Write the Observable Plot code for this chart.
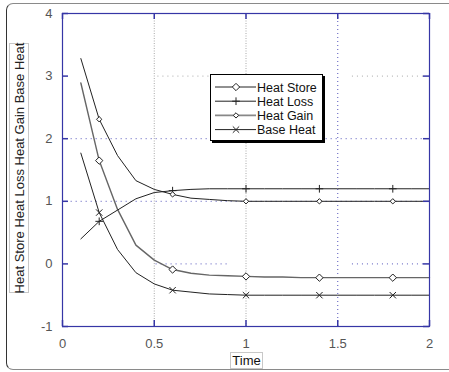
<!DOCTYPE html>
<html><head><meta charset="utf-8">
<script src="https://cdn.jsdelivr.net/npm/d3@7"></script>
<script src="https://cdn.jsdelivr.net/npm/@observablehq/plot@0.6"></script>
<style>
html,body{margin:0;padding:0;background:#fff;}
#wrap{position:relative;width:449px;height:372px;overflow:hidden;font-family:"Liberation Sans",Arial,sans-serif;}
#border{position:absolute;left:6px;top:3px;width:520px;height:367px;border:1px solid #8a8a8a;border-left:1.5px solid #333;border-radius:7px 0 0 7px;box-sizing:border-box;}
#chart{position:absolute;left:0;top:0;}
#ylab{position:absolute;left:9px;top:43px;width:20px;height:250px;border:1px solid #c8c8c8;box-sizing:border-box;background:#fff;}
#ylab span{position:absolute;left:50%;top:50%;transform:translate(-50%,-50%) rotate(-90deg);white-space:nowrap;font-size:13px;color:#222;}
#xlab{position:absolute;left:230px;top:352px;width:33px;height:17px;border:1px solid #c8c8c8;box-sizing:border-box;background:#fff;font-size:13px;color:#111;line-height:15px;text-align:center;}
#legend{position:absolute;left:210px;top:74px;width:113px;height:67px;border:1px solid #000;box-shadow:2px 2px 0 #000;background:#fff;box-sizing:border-box;}
</style>
</head><body>
<div id="wrap">
  <div id="border"></div>
  <div id="chart"></div>
  <div id="ylab"><span>Heat Store Heat Loss Heat Gain Base Heat</span></div>
  <div id="xlab">Time</div>
  <div id="legend"></div>
</div>
<script>
// ---- data ----
const time      = [0.1,0.2,0.3,0.4,0.5,0.6,0.7,0.8,0.9,1.0,1.1,1.2,1.3,1.4,1.5,1.6,1.7,1.8,1.9,2.0];
const heatStore = [2.89,1.65,0.87,0.30,0.06,-0.09,-0.15,-0.18,-0.19,-0.20,-0.21,-0.21,-0.22,-0.22,-0.22,-0.22,-0.22,-0.22,-0.22,-0.22];
const heatLoss  = [0.40,0.68,0.86,1.04,1.14,1.17,1.19,1.20,1.20,1.20,1.20,1.20,1.20,1.20,1.20,1.20,1.20,1.20,1.20,1.20];
const heatGain  = [3.28,2.31,1.73,1.33,1.19,1.11,1.05,1.03,1.01,1.00,1.00,1.00,1.00,1.00,1.00,1.00,1.00,1.00,1.00,1.00];
const baseHeat  = [1.77,0.82,0.23,-0.14,-0.32,-0.42,-0.45,-0.48,-0.49,-0.50,-0.50,-0.50,-0.50,-0.50,-0.50,-0.50,-0.50,-0.50,-0.50,-0.50];
const seriesNames = ["Heat Store","Heat Loss","Heat Gain","Base Heat"];
const xTicks = [0,0.5,1,1.5,2];
const yTicks = [-1,0,1,2,3,4];
const yGridFull = [1,2];
const yGridParts = [
  {y:3, x1:0.52, x2:1.43}, {y:3, x1:1.58, x2:1.97},
  {y:0, x1:0.51, x2:0.90}, {y:0, x1:1.58, x2:1.97}
];

// ---- styles ----
const styles = {
  "Heat Store": {stroke:"#666", width:1.4, symbol:"diamond2", r:3.3},
  "Heat Loss":  {stroke:"#222", width:1,   symbol:"plus",     r:2.6},
  "Heat Gain":  {stroke:"#222", width:1,   symbol:"diamond2", r:2.4},
  "Base Heat":  {stroke:"#222", width:1,   symbol:"times",    r:3.0}
};
const values = {"Heat Store":heatStore,"Heat Loss":heatLoss,"Heat Gain":heatGain,"Base Heat":baseHeat};
const rows = [];
for (const s of seriesNames) time.forEach((t,i)=>rows.push({series:s, t, v:values[s][i], i}));
const markerRows = rows.filter(d => d.i % 4 === 1);

const W=449, H=372, mL=62, mT=13, mR=20, mB=46;
const pw = W-mL-mR, ph = H-mT-mB;
const frameColor = "#3636a6";
const gridBlue = "#5555bb", gridGray = "#a8a8a8";

const marks = [
  Plot.ruleX([0.5,1], {x:d=>d, stroke:gridGray, strokeDasharray:"1,1.5", strokeWidth:1}),
  Plot.ruleX([1.5], {x:d=>d, stroke:gridBlue, strokeDasharray:"1,3", strokeWidth:1}),
  Plot.ruleY(yGridFull, {y:d=>d, x1:0.02, x2:1.97, stroke:gridBlue, strokeDasharray:"1,4", strokeWidth:1}),
  Plot.ruleY(yGridParts, {y:"y", x1:"x1", x2:"x2", stroke:d=>d.y===3?gridGray:gridBlue, strokeDasharray:"1,4", strokeWidth:1})
];
for (const s of seriesNames) {
  const st = styles[s];
  marks.push(Plot.line(rows.filter(d=>d.series===s), {x:"t", y:"v", stroke:st.stroke, strokeWidth:st.width}));
}
for (const s of seriesNames) {
  const st = styles[s];
  marks.push(Plot.dot(markerRows.filter(d=>d.series===s), {x:"t", y:"v", symbol:()=>st.symbol, r:st.r, stroke:"#222", fill:st.symbol==="diamond2"?"#fff":"none", strokeWidth:1}));
}
marks.push(
  Plot.frame({stroke:frameColor, strokeWidth:1.2}),
  Plot.tickY(yTicks, {y:d=>d, insetRight:pw-6, stroke:frameColor, strokeWidth:1.5}),
  Plot.tickY(yTicks, {y:d=>d, insetLeft:pw-6, stroke:frameColor, strokeWidth:1.5}),
  Plot.tickX(xTicks, {x:d=>d, insetTop:ph-6, stroke:frameColor, strokeWidth:1.5}),
  Plot.tickX(xTicks, {x:d=>d, insetBottom:ph-6, stroke:frameColor, strokeWidth:1.5}),
  Plot.axisX(xTicks, {tickSize:0, tickPadding:12, label:null, tickFormat:d=>String(d), fill:"#555", fontSize:13}),
  Plot.axisY(yTicks, {tickSize:0, tickPadding:10, label:null, tickFormat:d=>String(d), fill:"#555", fontSize:13})
);

const chart = Plot.plot({
  width:W, height:H, marginLeft:mL, marginTop:mT, marginRight:mR, marginBottom:mB,
  style:{background:"transparent", fontFamily:"Liberation Sans, Arial, sans-serif", fontSize:"13px", overflow:"visible"},
  x:{domain:[0,2]}, y:{domain:[-1,4]},
  marks
});
document.getElementById("chart").appendChild(chart);

// ---- legend ----
const leg = d3.select("#legend").append("svg").attr("width",113).attr("height",67).style("display","block");
const symMap = {diamond2:d3.symbolDiamond2, plus:d3.symbolPlus, times:d3.symbolTimes};
seriesNames.forEach((s,k)=>{
  const st = styles[s];
  const y = 12 + k*14.2;
  const g = leg.append("g");
  g.append("line").attr("x1",4).attr("x2",45).attr("y1",y).attr("y2",y).attr("stroke",s==="Heat Gain"?"#888":"#222").attr("stroke-width",s==="Heat Gain"?1.6:1);
  g.append("path").attr("transform",`translate(25,${y})`)
    .attr("d", d3.symbol(symMap[st.symbol], Math.PI*st.r*st.r)())
    .attr("fill", st.symbol==="diamond2"?"#fff":"none").attr("stroke","#222");
  g.append("text").attr("x",46).attr("y",y).attr("dy","0.36em").attr("font-size",12.5).attr("fill","#111")
    .attr("font-family","Liberation Sans, Arial, sans-serif").text(s);
});
</script>
</body></html>
